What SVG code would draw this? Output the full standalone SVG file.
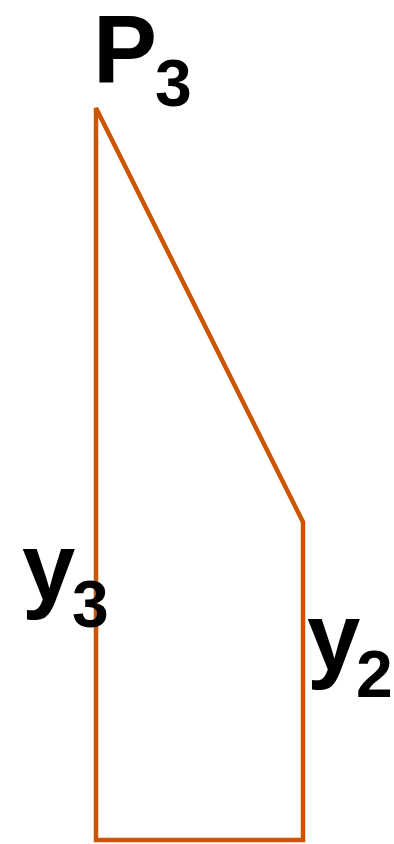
<svg xmlns="http://www.w3.org/2000/svg" width="394" height="844" viewBox="0 0 394 844">
<style>
.lbl{font-family:"Liberation Sans",Arial,sans-serif;font-weight:bold;fill:#000}
.big{font-size:96px}
.sub{font-size:66px}
.edge{fill:none;stroke:#cc5500;stroke-width:4.5;stroke-linejoin:miter}
</style>
<rect width="394" height="844" fill="#fff"/>
<g id="connectors">
<polygon class="edge" points="96,108 96,840 303,840 303,522"/>
</g>
<g id="P3"><text class="lbl big" x="93" y="82">P</text><text class="lbl sub" x="155" y="106">3</text></g>
<g id="y3"><text class="lbl big" x="22" y="600">y</text><text class="lbl sub" x="72" y="627">3</text></g>
<g id="y2"><text class="lbl big" x="307" y="670">y</text><text class="lbl sub" x="356" y="697">2</text></g>
</svg>
